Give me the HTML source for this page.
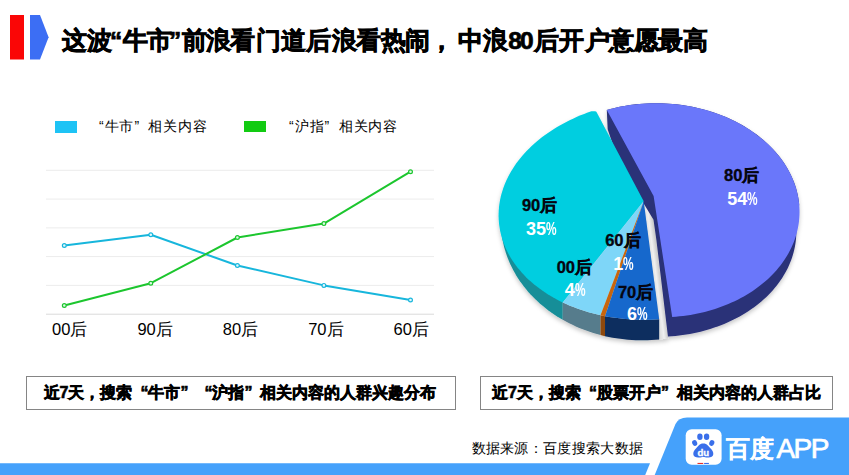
<!DOCTYPE html>
<html><head><meta charset="utf-8">
<style>
*{margin:0;padding:0;box-sizing:border-box}
html,body{width:849px;height:475px;overflow:hidden;background:#fff;font-family:"Liberation Sans",sans-serif;color:#000}
.a{position:absolute;white-space:nowrap}
.title{top:26px;font-size:24.5px;font-weight:bold;line-height:30px;-webkit-text-stroke:0.7px #000}
.leg{font-size:14px;letter-spacing:0.95px;line-height:16px;top:117.7px;color:#000}
.xl{font-size:16.5px;line-height:18px;top:320px;color:#000}
.box{top:376px;height:34px;border:1.3px solid #858585}
.bt{font-size:16px;font-weight:bold;line-height:18px;-webkit-text-stroke:0.6px #000;top:384px}
.q{display:inline-block;width:1em}
.pl{font-size:16.5px;font-weight:bold;line-height:18px;color:#050510;-webkit-text-stroke:0.35px #050510}
.pp{font-size:18px;font-weight:bold;line-height:18px;color:#fff}
.pc{display:inline-block;transform:scaleX(0.66);transform-origin:0 0;width:10px}
.src{left:471.5px;top:439px;font-size:14px;letter-spacing:0.33px;line-height:18px;color:#000}
</style></head><body>
<svg class="a" style="left:0;top:0" width="849" height="475" viewBox="0 0 849 475">
<defs><linearGradient id="gg" gradientUnits="userSpaceOnUse" x1="651.5" y1="270" x2="660" y2="268.9"><stop offset="0" stop-color="#DCDCDC"/><stop offset="0.45" stop-color="#F0F0F0"/><stop offset="1" stop-color="#C4C4C4"/></linearGradient><filter id="sh" x="-10%" y="-10%" width="120%" height="130%"><feDropShadow dx="0" dy="2.5" stdDeviation="2" flood-color="#000" flood-opacity="0.22"/></filter></defs>
<rect x="10" y="15" width="14" height="44.5" fill="#FA0606"/>
<path d="M30 15 L40 15 L48.6 37.3 L40 59.5 L30 59.5 Z" fill="#3C6EF4"/>
<rect x="55" y="121" width="22" height="12" fill="#1EC3F5"/>
<rect x="244" y="121" width="22" height="11" fill="#12CB12"/>
<line x1="46" y1="170.3" x2="434" y2="170.3" stroke="#ECECEC" stroke-width="1"/>
<line x1="46" y1="199.1" x2="434" y2="199.1" stroke="#ECECEC" stroke-width="1"/>
<line x1="46" y1="227.9" x2="434" y2="227.9" stroke="#ECECEC" stroke-width="1"/>
<line x1="46" y1="256.6" x2="434" y2="256.6" stroke="#ECECEC" stroke-width="1"/>
<line x1="46" y1="285.4" x2="434" y2="285.4" stroke="#ECECEC" stroke-width="1"/>
<line x1="46" y1="314.2" x2="434" y2="314.2" stroke="#DADADA" stroke-width="1"/>
<polyline points="64.3,245.5 150.8,234.7 237.4,265.5 323.9,285.4 410.5,300.0" fill="none" stroke="#17B6DC" stroke-width="2" stroke-linejoin="round"/>
<circle cx="64.3" cy="245.5" r="1.9" fill="#E2F7FC" stroke="#17B6DC" stroke-width="1.2"/>
<circle cx="150.8" cy="234.7" r="1.9" fill="#E2F7FC" stroke="#17B6DC" stroke-width="1.2"/>
<circle cx="237.4" cy="265.5" r="1.9" fill="#E2F7FC" stroke="#17B6DC" stroke-width="1.2"/>
<circle cx="323.9" cy="285.4" r="1.9" fill="#E2F7FC" stroke="#17B6DC" stroke-width="1.2"/>
<circle cx="410.5" cy="300.0" r="1.9" fill="#E2F7FC" stroke="#17B6DC" stroke-width="1.2"/>
<polyline points="64.3,305.5 150.8,283.2 237.4,237.5 323.9,223.6 410.5,171.7" fill="none" stroke="#1CC62E" stroke-width="2" stroke-linejoin="round"/>
<circle cx="64.3" cy="305.5" r="1.9" fill="#DDF8E4" stroke="#1CC62E" stroke-width="1.2"/>
<circle cx="150.8" cy="283.2" r="1.9" fill="#DDF8E4" stroke="#1CC62E" stroke-width="1.2"/>
<circle cx="237.4" cy="237.5" r="1.9" fill="#DDF8E4" stroke="#1CC62E" stroke-width="1.2"/>
<circle cx="323.9" cy="223.6" r="1.9" fill="#DDF8E4" stroke="#1CC62E" stroke-width="1.2"/>
<circle cx="410.5" cy="171.7" r="1.9" fill="#DDF8E4" stroke="#1CC62E" stroke-width="1.2"/>
<g filter="url(#sh)">
<path d="M643.70 201.20 L659.18 319.26 L659.18 339.43 L668.20 338.60 L658.40 260.00 L656.40 240.00 L653.50 219.80 Z" fill="url(#gg)"/>
<path d="M606.79 109.96 L607.69 129.26 L613.00 145.00 L642.30 201.20 L653.50 219.80 L656.40 240.00 L668.20 338.60 L668.00 336.54 L671.68 336.28 L675.36 335.96 L679.02 335.55 L682.66 335.08 L686.28 334.53 L689.89 333.92 L693.46 333.23 L697.02 332.47 L700.54 331.63 L704.03 330.73 L707.49 329.76 L710.91 328.72 L714.29 327.62 L717.64 326.44 L720.93 325.20 L724.19 323.90 L727.40 322.53 L730.55 321.09 L733.66 319.60 L736.71 318.04 L739.70 316.42 L742.64 314.74 L745.51 313.01 L748.33 311.21 L751.08 309.36 L753.76 307.46 L756.38 305.50 L758.92 303.49 L761.40 301.44 L763.80 299.33 L766.13 297.17 L768.38 294.97 L770.55 292.72 L772.65 290.43 L774.66 288.10 L776.59 285.73 L778.44 283.31 L780.20 280.87 L781.87 278.39 L783.46 275.87 L784.97 273.32 L786.38 270.75 L787.70 268.14 L788.93 265.51 L790.07 262.85 L791.11 260.17 L792.06 257.47 L792.92 254.76 L793.69 252.02 L794.35 249.27 L794.93 246.51 L795.40 243.73 L795.78 240.94 L796.07 238.15 L796.25 235.35 L796.34 232.55 L796.33 229.75 L796.23 226.94 L796.03 224.14 L799.21 204.65 L798.91 201.83 L798.51 199.02 L798.01 196.21 L797.41 193.41 L796.72 190.63 L795.93 187.86 L795.05 185.10 L794.07 182.37 L792.99 179.65 L791.83 176.95 L790.56 174.28 L789.21 171.63 L787.76 169.01 L786.23 166.41 L784.60 163.85 L782.89 161.32 L781.09 158.83 L779.20 156.37 L777.23 153.95 L775.18 151.56 L773.04 149.22 L770.83 146.92 L768.53 144.67 L766.16 142.46 L763.72 140.29 L761.20 138.18 L758.61 136.12 L755.94 134.11 L753.22 132.15 L750.42 130.24 L747.56 128.40 L744.64 126.61 L741.65 124.87 L738.61 123.20 L735.51 121.59 L732.36 120.04 L729.16 118.55 L725.91 117.12 L722.61 115.76 L719.26 114.47 L715.87 113.25 L712.45 112.09 L708.98 111.00 L705.48 109.98 L701.95 109.02 L698.38 108.14 L694.79 107.33 L691.17 106.60 L687.53 105.93 L683.87 105.34 L680.19 104.82 L676.49 104.37 L672.78 104.00 L669.06 103.70 L665.34 103.48 L661.61 103.33 L657.87 103.25 L654.14 103.25 L650.41 103.33 L646.68 103.47 L642.97 103.70 L639.26 104.00 L635.56 104.37 L631.89 104.81 L628.23 105.33 L624.59 105.92 L620.97 106.59 L617.38 107.32 L613.82 108.13 L610.29 109.01 L606.79 109.96 Z" fill="#2A3078"/>
<path d="M653.60 196.00 L606.79 109.96 L610.27 109.02 L613.78 108.14 L617.32 107.34 L620.89 106.60 L624.49 105.94 L628.11 105.35 L631.74 104.83 L635.40 104.38 L639.08 104.01 L642.76 103.71 L646.46 103.49 L650.16 103.33 L653.87 103.25 L657.59 103.25 L661.30 103.32 L665.01 103.46 L668.72 103.68 L672.42 103.97 L676.10 104.33 L679.78 104.77 L683.44 105.27 L687.09 105.86 L690.71 106.51 L694.31 107.23 L697.89 108.03 L701.44 108.89 L704.96 109.83 L708.45 110.83 L711.90 111.91 L715.31 113.05 L718.69 114.26 L722.02 115.53 L725.31 116.87 L728.56 118.28 L731.75 119.74 L734.90 121.27 L737.99 122.87 L741.02 124.52 L744.00 126.23 L746.92 128.00 L749.78 129.82 L752.58 131.70 L755.31 133.64 L757.97 135.63 L760.56 137.67 L763.09 139.76 L765.54 141.89 L767.92 144.08 L770.22 146.31 L772.44 148.59 L774.59 150.90 L776.65 153.26 L778.64 155.66 L780.54 158.09 L782.35 160.57 L784.08 163.07 L785.73 165.61 L787.28 168.18 L788.75 170.78 L790.13 173.40 L791.41 176.05 L792.61 178.73 L793.71 181.42 L794.71 184.14 L795.63 186.87 L796.45 189.62 L797.17 192.39 L797.80 195.16 L798.33 197.95 L798.76 200.75 L799.10 203.55 L799.34 206.36 L799.48 209.17 L799.53 211.98 L799.48 214.78 L799.33 217.59 L799.08 220.39 L798.74 223.19 L798.30 225.97 L797.76 228.75 L797.13 231.51 L796.40 234.26 L795.57 236.99 L794.65 239.70 L793.64 242.39 L792.53 245.06 L791.33 247.71 L790.04 250.33 L788.66 252.92 L787.18 255.48 L785.62 258.02 L783.97 260.52 L782.24 262.98 L780.42 265.41 L778.51 267.80 L776.52 270.15 L774.45 272.46 L772.30 274.73 L770.07 276.95 L767.76 279.13 L765.38 281.25 L762.92 283.34 L760.40 285.37 L757.80 287.34 L755.13 289.27 L752.39 291.14 L749.59 292.95 L746.73 294.71 L743.81 296.41 L740.82 298.05 L737.78 299.63 L734.69 301.15 L731.54 302.61 L728.34 304.00 L725.10 305.33 L721.80 306.59 L718.47 307.79 L715.09 308.92 L711.67 309.98 L708.22 310.97 L704.73 311.89 L701.21 312.74 L697.65 313.53 L694.08 314.24 L690.47 314.88 L686.85 315.45 L683.20 315.94 L679.54 316.36 L675.86 316.71 L672.17 316.99 Z" fill="#6A77FA"/>
<path d="M562.78 319.78 L559.73 317.99 L556.73 316.13 L553.80 314.20 L550.92 312.21 L548.11 310.16 L545.36 308.04 L542.68 305.86 L540.07 303.63 L537.53 301.34 L535.07 298.99 L532.67 296.59 L530.36 294.13 L528.12 291.63 L525.96 289.08 L523.88 286.48 L521.88 283.83 L519.97 281.14 L518.14 278.41 L516.39 275.64 L514.74 272.83 L513.17 269.99 L511.69 267.11 L510.30 264.20 L509.01 261.26 L507.80 258.30 L506.69 255.31 L505.68 252.29 L504.75 249.25 L503.93 246.20 L503.20 243.12 L502.56 240.03 L502.02 236.93 L501.58 233.82 L501.24 230.70 L501.00 227.57 L500.85 224.43 L500.80 221.30 L560.00 221.00 L562.78 250.00 Z" fill="#168E98"/>
<path d="M600.54 315.22 L596.54 314.30 L592.58 313.30 L588.66 312.22 L584.79 311.05 L580.98 309.81 L577.22 308.49 L573.51 307.10 L569.87 305.63 L566.29 304.08 L562.78 302.46 L562.78 319.78 L565.97 321.55 L569.22 323.25 L572.52 324.87 L575.87 326.42 L579.27 327.89 L582.72 329.28 L586.20 330.59 L589.73 331.83 L593.30 332.98 L596.91 334.05 L600.54 335.04 Z" fill="#577C8C"/>
<path d="M605.02 316.14 L600.54 315.22 L600.54 335.04 L605.02 336.13 Z" fill="#8E4A0C"/>
<path d="M659.18 319.26 L654.96 319.52 L650.74 319.70 L646.52 319.80 L642.30 319.81 L638.09 319.73 L633.89 319.58 L629.70 319.34 L625.53 319.01 L621.38 318.60 L617.25 318.11 L613.14 317.54 L609.07 316.88 L605.02 316.14 L605.02 336.13 L608.80 336.95 L612.61 337.68 L616.44 338.32 L620.28 338.87 L624.15 339.34 L628.03 339.71 L631.91 339.99 L635.81 340.18 L639.71 340.28 L643.61 340.29 L647.51 340.21 L651.41 340.04 L655.30 339.78 L659.18 339.43 Z" fill="#0C2D5E"/>
<path d="M643.70 201.20 L562.78 302.46 L559.56 300.88 L556.39 299.23 L553.29 297.53 L550.26 295.76 L547.30 293.94 L544.41 292.05 L541.59 290.11 L538.85 288.12 L536.18 286.07 L533.60 283.97 L531.09 281.82 L528.67 279.63 L526.33 277.38 L524.07 275.09 L521.90 272.75 L519.83 270.37 L517.84 267.95 L515.94 265.48 L514.14 262.98 L512.43 260.45 L510.81 257.88 L509.29 255.28 L507.87 252.64 L506.55 249.98 L505.32 247.29 L504.20 244.57 L503.17 241.83 L502.25 239.07 L501.43 236.29 L500.71 233.49 L500.10 230.67 L499.59 227.84 L499.18 225.00 L498.88 222.15 L498.68 219.29 L498.59 216.42 L498.60 213.55 L498.72 210.68 L498.94 207.81 L499.26 204.93 L499.69 202.07 L500.22 199.20 L500.86 196.35 L501.60 193.50 L502.44 190.67 L503.39 187.85 L504.43 185.04 L505.58 182.25 L506.82 179.48 L508.17 176.73 L509.61 174.01 L511.15 171.31 L512.79 168.63 L514.52 165.99 L516.34 163.37 L518.26 160.79 L520.27 158.24 L522.36 155.72 L524.55 153.25 L526.82 150.81 L529.18 148.41 L531.62 146.06 L534.15 143.75 L536.75 141.48 L539.43 139.27 L542.19 137.10 L545.02 134.98 L547.93 132.91 L550.91 130.89 L553.95 128.93 L557.07 127.03 L560.24 125.18 L563.48 123.39 L566.78 121.66 L570.14 120.00 L573.55 118.39 L577.02 116.84 L580.54 115.36 L584.10 113.95 L587.71 112.60 L591.37 111.32 L595.20 111.20 L596.40 111.80 Z" fill="#02CEE0"/>
<path d="M643.70 201.20 L600.54 315.22 L596.54 314.30 L592.58 313.30 L588.66 312.22 L584.79 311.05 L580.98 309.81 L577.22 308.49 L573.51 307.10 L569.87 305.63 L566.29 304.08 L562.78 302.46 Z" fill="#7ED6F8"/>
<path d="M643.70 201.20 L605.02 316.14 L600.54 315.22 Z" fill="#C8650A"/>
<path d="M643.70 201.20 L659.18 319.26 L654.96 319.52 L650.74 319.70 L646.52 319.80 L642.30 319.81 L638.09 319.73 L633.89 319.58 L629.70 319.34 L625.53 319.01 L621.38 318.60 L617.25 318.11 L613.14 317.54 L609.07 316.88 L605.02 316.14 Z" fill="#1468CC"/>
</g>
<path d="M0 463.2 L650 463.2 L645.2 475 L0 475 Z" fill="#45A1FB"/>
<path d="M687 417.5 L849 417.5 L849 475 L654.7 475 L675.5 424 Q678.5 417.5 687 417.5 Z" fill="#45A1FB"/>
<rect x="685.7" y="429.3" width="35.9" height="35.5" rx="6" fill="#fff"/>
<ellipse cx="699.9" cy="436.8" rx="2.7" ry="3.3" fill="#3A6FEA"/>
<ellipse cx="706.6" cy="436.8" rx="2.7" ry="3.3" fill="#3A6FEA"/>
<ellipse cx="694.7" cy="443.0" rx="2.5" ry="3.0" fill="#3A6FEA" transform="rotate(-20 694.7 443)"/>
<ellipse cx="711.8" cy="443.0" rx="2.5" ry="3.0" fill="#3A6FEA" transform="rotate(20 711.8 443)"/>
<path d="M703.3 443.4 C699.3 443.4 698.1 446.2 696.2 448.3 C694.1 450.5 693.1 452 693.3 454.3 C693.5 456.9 696.2 457.7 699 457.5 C701 457.3 702 456.9 703.3 456.9 C704.6 456.9 705.6 457.3 707.6 457.5 C710.4 457.7 713.1 456.9 713.3 454.3 C713.5 452 712.5 450.5 710.4 448.3 C708.5 446.2 707.3 443.4 703.3 443.4 Z" fill="#3A6FEA"/>
<text x="703.3" y="455.6" font-family="Liberation Sans" font-weight="bold" font-size="9.6" fill="#fff" stroke="#fff" stroke-width="0.3" text-anchor="middle">du</text>
<rect x="697.5" y="462.9" width="5.7" height="1.1" fill="#E8302A"/><rect x="704.1" y="462.9" width="4.8" height="1.1" fill="#3A6FEA"/>
</svg>
<span class="a title" style="left:62.1px">这</span><span class="a title" style="left:87.1px">波</span><span class="a title" style="left:110.1px">“</span><span class="a title" style="left:123.1px">牛</span><span class="a title" style="left:147.2px">市</span><span class="a title" style="left:168.9px">”</span><span class="a title" style="left:182.0px">前</span><span class="a title" style="left:205.6px">浪</span><span class="a title" style="left:230.0px">看</span><span class="a title" style="left:255.5px">门</span><span class="a title" style="left:281.0px">道</span><span class="a title" style="left:306.4px">后</span><span class="a title" style="left:331.9px">浪</span><span class="a title" style="left:355.9px">看</span><span class="a title" style="left:381.3px">热</span><span class="a title" style="left:405.4px">闹</span><span class="a title" style="left:429.0px">，</span><span class="a title" style="left:457.7px">中</span><span class="a title" style="left:483.0px">浪</span><span class="a title" style="left:508.2px">8</span><span class="a title" style="left:520.0px">0</span><span class="a title" style="left:534.2px">后</span><span class="a title" style="left:558.7px">开</span><span class="a title" style="left:584.8px">户</span><span class="a title" style="left:609.3px">意</span><span class="a title" style="left:633.8px">愿</span><span class="a title" style="left:658.3px">最</span><span class="a title" style="left:682.8px">高</span>
<div class="a leg" style="left:90.5px"><span class="q" style="text-align:right">“</span>牛市<span class="q">”</span>相关内容</div>
<div class="a leg" style="left:280.7px"><span class="q" style="text-align:right">“</span>沪指<span class="q">”</span>相关内容</div>
<div class="a xl" style="left:52.0px">00后</div>
<div class="a xl" style="left:137.4px">90后</div>
<div class="a xl" style="left:222.8px">80后</div>
<div class="a xl" style="left:308.2px">70后</div>
<div class="a xl" style="left:393.6px">60后</div>

<div class="a pl" style="left:724.0px;top:166.4px">80后</div>
<div class="a pp" style="left:727.2px;top:189.8px">54<span class="pc">%</span></div>
<div class="a pl" style="left:521.9px;top:195.8px">90后</div>
<div class="a pp" style="left:526.0px;top:219.7px">35<span class="pc">%</span></div>
<div class="a pl" style="left:556.7px;top:257.7px">00后</div>
<div class="a pp" style="left:564.8px;top:281.3px">4<span class="pc">%</span></div>
<div class="a pl" style="left:605.2px;top:231.4px">60后</div>
<div class="a pp" style="left:613.3px;top:255.4px">1<span class="pc">%</span></div>
<div class="a pl" style="left:617.9px;top:283.0px">70后</div>
<div class="a pp" style="left:627.0px;top:305.3px">6<span class="pc">%</span></div>

<div class="a box" style="left:26px;width:430px"></div>
<div class="a box" style="left:480px;width:353px"></div>
<div class="a bt" style="left:43.5px">近7天，搜索<span class="q" style="text-align:right">“</span>牛市<span class="q">”</span><span class="q" style="text-align:right">“</span>沪指<span class="q">”</span>相关内容的人群兴趣分布</div>
<div class="a bt" style="left:492px">近7天，搜索<span class="q" style="text-align:right">“</span>股票开户<span class="q">”</span>相关内容的人群占比</div>
<div class="a src">数据来源：百度搜索大数据</div>
<div class="a" style="left:725.5px;top:434.5px;font-size:24px;line-height:28px;color:#fff;font-weight:bold;-webkit-text-stroke:0.15px #fff">百度</div>
<div class="a" style="left:776.5px;top:433.5px;font-size:28px;line-height:30px;color:#fff;letter-spacing:-1.6px;-webkit-text-stroke:0.7px #fff">APP</div>
</body></html>
